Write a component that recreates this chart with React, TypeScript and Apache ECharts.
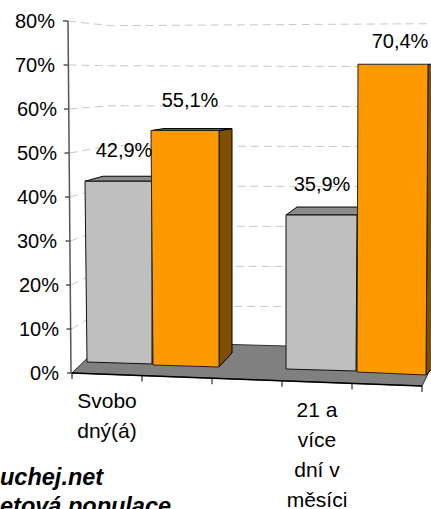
import React, { useEffect, useRef } from "react";
import * as echarts from "echarts";

const categories = ["Svobo\ndný(á)", "", "", "21 a\nvíce\ndní v\nměsíci", ""];
const greyValues: [number, number][] = [[0, 42.9], [3, 35.9]];
const orangeValues: [number, number][] = [[1, 55.1], [4, 70.4]];
const tickValues = [0, 10, 20, 30, 40, 50, 60, 70, 80];
const footerLines = ["uchej.net", "etová populace"];

const FONT = '"Liberation Sans", Arial, sans-serif';

// perspective of each band, as offsets from the band centre on the zero line
const perspective: Record<number, any> = {
  0: { tl: -22, tr: 45, bl: -20, br: 45, dyL: -11, dyR: -9, top: -3, dx: 18, dyTop: -5, dyBot: -14, lx: 17, ly: -34 },
  1: { tl: -26, tr: 42, bl: -24, br: 42, dyL: -8, dyR: -6, top: 0, dx: 13, dyTop: -2, dyBot: -14, lx: 13, ly: -31 },
  3: { tl: -31, tr: 40, bl: -31, br: 39, dyL: -4, dyR: -2, top: 0, dx: 11, dyTop: -8, dyBot: -14, lx: 5, ly: -31 },
  4: { tl: -29, tr: 41, bl: -30, br: 39, dyL: -1, dyR: 2, top: 1, dx: 14, dyTop: 0, dyBot: -14, lx: 13, ly: -22 },
};

const pct = (v: number) => v.toFixed(1).replace(".", ",") + "%";

const barSeries = (data: [number, number][], front: string, top: string, side: string, frontStroke: string) => ({
  type: "custom",
  clip: false,
  data,
  z: 4,
  renderItem: (_: any, api: any) => {
    const i = api.value(0);
    const p = perspective[i];
    const [cx, y0] = api.coord([i, 0]);
    const yTop = api.coord([i, api.value(1)])[1] + p.top;
    const tl = [cx + p.tl, yTop];
    const tr = [cx + p.tr, yTop];
    const br = [cx + p.br, y0 + p.dyR];
    const bl = [cx + p.bl, y0 + p.dyL];
    const style = (fill: string, stroke = "#000") => ({ fill, stroke, lineWidth: 1 });
    const children: any[] = [
      {
        type: "polygon",
        shape: { points: [tr, [tr[0] + p.dx, yTop + p.dyTop], [br[0] + p.dx, br[1] + p.dyBot], br] },
        style: style(side),
      },
    ];
    if (p.dyTop !== 0) {
      children.push({
        type: "polygon",
        shape: { points: [tl, [tl[0] + p.dx, yTop + p.dyTop], [tr[0] + p.dx, yTop + p.dyTop], tr] },
        style: style(top),
      });
    }
    children.push({ type: "polygon", shape: { points: [tl, tr, br, bl] }, style: style(front, frontStroke) });
    return { type: "group", children };
  },
});

export default function App() {
  const ref = useRef<HTMLDivElement>(null);
  useEffect(() => {
    const chart = echarts.init(ref.current!, undefined, { renderer: "svg" });
    const richPad = (pad: number) => ({ fontSize: 20, fontFamily: FONT, color: "#000", padding: [0, pad, 0, 0] });
    const xAxisBase = {
      type: "category",
      data: categories,
      position: "bottom",
      axisLine: { show: false },
      axisTick: { show: false },
      splitLine: { show: false },
    };
    const xLabel = {
      show: true,
      fontSize: 21,
      fontFamily: FONT,
      color: "#000",
      lineHeight: 30,
      verticalAlign: "top",
    };
    chart.setOption({
      animation: false,
      backgroundColor: "#fff",
      grid: { left: 72, top: 21, width: 350, height: 352, containLabel: false, outerBoundsMode: "none" },
      xAxis: [
        { ...xAxisBase, axisLabel: { ...xLabel, margin: 12, interval: (i: number) => i === 0 } },
        { ...xAxisBase, offset: 9, axisLabel: { ...xLabel, margin: 12, interval: (i: number) => i === 3 } },
      ],
      yAxis: {
        type: "value",
        min: 0,
        max: 80,
        interval: 10,
        axisLine: { show: false },
        axisTick: { show: false },
        splitLine: { show: false },
        axisLabel: {
          margin: 13,
          formatter: (v: number) => (v >= 70 ? `{a|${v}%}` : v >= 30 ? `{b|${v}%}` : `{c|${v}%}`),
          rich: { a: richPad(4), b: richPad(2), c: richPad(0) },
        },
      },
      graphic: footerLines.map((text, i) => ({
        type: "text",
        x: 0,
        y: i === 0 ? 477 : 506,
        z: 10,
        style: {
          text,
          font: `italic bold 23.5px ${FONT}`,
          fill: "#000",
          textVerticalAlign: "middle",
        },
      })),
      series: [
        // wall gridlines and value ticks
        {
          type: "custom",
          clip: false,
          z: 1,
          data: tickValues.map((v) => [0, v]),
          renderItem: (_: any, api: any) => {
            const v = api.value(1);
            const [cx, y0] = api.coord([0, 0]);
            const y = api.coord([0, v])[1];
            const axisX = cx - 35 - (4 * (y0 - y)) / 352;
            const wallY = y0 - 27 - (y0 - y) * 0.91;
            const children: any[] = [
              {
                type: "line",
                shape: { x1: axisX - 5, y1: y, x2: axisX, y2: y },
                style: { stroke: "#000", lineWidth: 1 },
              },
            ];
            if (v > 0) {
              children.unshift({
                type: "polyline",
                shape: { points: [[axisX, y], [cx + 3, wallY], [cx + 324, wallY + (v === 80 ? -2 : 1)]] },
                style: { stroke: "#c8c8c8", lineWidth: 1, lineDash: [8, 5], fill: null },
              });
            }
            return { type: "group", children };
          },
        },
        // left axis, floor, sloped category axis
        {
          type: "custom",
          clip: false,
          z: 2,
          data: [[0, 0]],
          renderItem: (_: any, api: any) => {
            const [cx, y0] = api.coord([0, 0]);
            const yMax = api.coord([0, 80])[1];
            const band = api.size([1, 0])[0];
            const ox = cx - band / 2;
            const children: any[] = [
              {
                type: "line",
                shape: { x1: ox - 4, y1: yMax, x2: ox - 1, y2: y0 },
                style: { stroke: "#555", lineWidth: 1.5 },
              },
              {
                type: "polygon",
                shape: {
                  points: [
                    [ox, y0],
                    [ox + 33, y0 - 32],
                    [ox + 214, y0 - 27],
                    [ox + 368, y0 - 23],
                    [ox + band * 5, y0 + 13],
                  ],
                },
                style: { fill: "#808080", stroke: "#333", lineWidth: 1 },
              },
              {
                type: "line",
                shape: { x1: ox, y1: y0, x2: ox + band * 5, y2: y0 + 13 },
                style: { stroke: "#000", lineWidth: 1.5 },
              },
            ];
            for (let i = 0; i <= 5; i++) {
              const y = y0 + (i * 13) / 5;
              children.push({
                type: "line",
                shape: { x1: ox + band * i, y1: y, x2: ox + band * i, y2: y + 6 },
                style: { stroke: "#000", lineWidth: 1 },
              });
            }
            return { type: "group", children };
          },
        },
        barSeries(greyValues, "#bfbfbf", "#8c8c8c", "#606060", "#111"),
        barSeries(orangeValues, "#ff9900", "#805000", "#7f4f00", "#222"),
        // value labels
        {
          type: "custom",
          clip: false,
          z: 6,
          data: [...greyValues, ...orangeValues],
          renderItem: (_: any, api: any) => {
            const i = api.value(0);
            const v = api.value(1);
            const p = perspective[i];
            const [cx, y] = api.coord([i, v]);
            return {
              type: "text",
              x: cx + p.lx,
              y: y + p.ly,
              style: {
                text: pct(v),
                font: `20px ${FONT}`,
                fill: "#000",
                textAlign: "center",
                textVerticalAlign: "middle",
              },
            };
          },
        },
      ],
    });
    return () => chart.dispose();
  }, []);
  return (
    <div
      ref={ref}
      style={{ position: "absolute", left: 0, top: 0, width: 431, height: 509, overflow: "hidden" }}
    />
  );
}
